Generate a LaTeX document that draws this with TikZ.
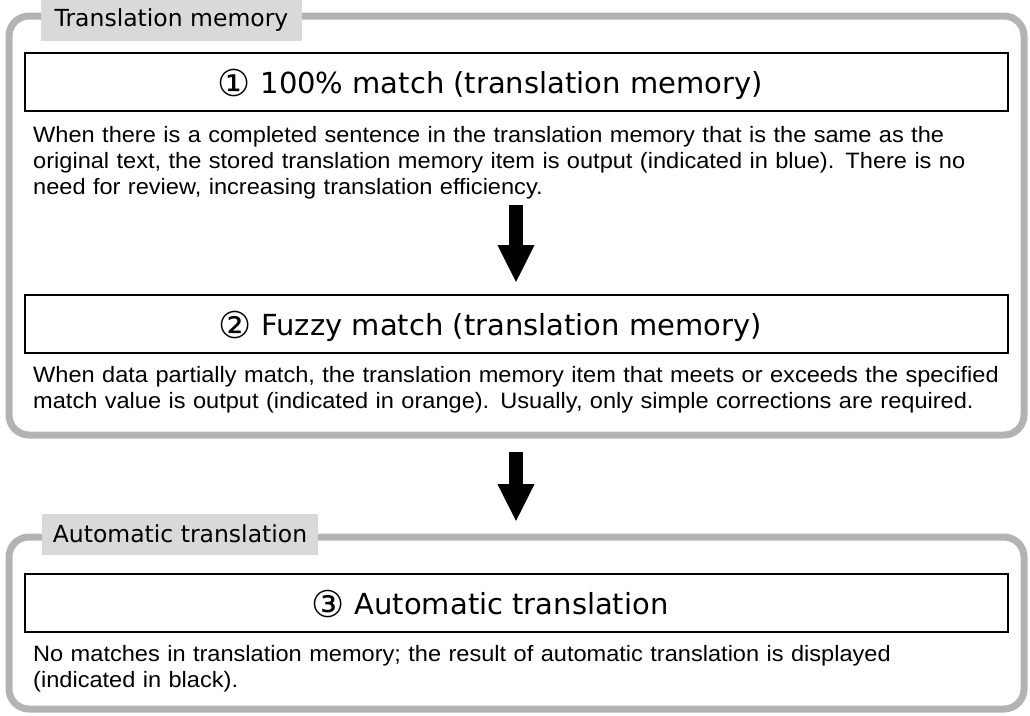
\documentclass[tikz,border=0pt]{standalone}
\usepackage{fontspec}
\setmainfont[FakeStretch=1.06]{Liberation Sans}
\newfontfamily\vfont{DejaVu Sans}
\usetikzlibrary{arrows.meta}
\definecolor{framegray}{HTML}{B3B3B3}
\definecolor{labelgray}{HTML}{D9D9D9}
\newcommand{\circnum}[1]{\raisebox{-3pt}{\fontsize{37}{37}\selectfont #1}\hspace*{10pt}}
\begin{document}
\begin{tikzpicture}[x=1pt,y=-1pt,
  groupframe/.style={draw=framegray, line width=7pt, rounded corners=20pt},
  grouplabel/.style={fill=labelgray, inner sep=0pt, minimum height=41pt, font=\vfont\fontsize{23.5}{28}\selectfont},
  titlebox/.style={draw, line width=2pt, inner sep=0pt, minimum width=983pt, minimum height=58pt},
  titletext/.style={anchor=base, inner sep=0pt, font=\vfont\fontsize{29}{34}\selectfont},
  bodytext/.style={anchor=base west, text width=995pt, align=left, inner sep=0pt, font=\fontsize{22.25}{26}\selectfont},
  bigarrow/.style={line width=14pt, -{Triangle[width=34pt,length=38pt]}}
]
\useasboundingbox (0,0) rectangle (1030,715);
% group frames
\draw[groupframe] (9,16) rectangle (1024,435);
\draw[groupframe] (9,537) rectangle (1024,709);
% group labels
\node[grouplabel, minimum width=261pt] (lab1) at (171.5,20.5) {Translation memory};
\node[grouplabel, minimum width=276pt] (lab2) at (180,534) {Automatic translation};
% title boxes
\node[titlebox] (t1) at (516.5,82) {};
\node[titlebox] (t2) at (516.5,324) {};
\node[titlebox] (t3) at (516.5,602.5) {};
\node[titletext] (t1l) at (490,93) {\circnum{①}100\% match (translation memory)};
\node[titletext] (t2l) at (490,335) {\circnum{②}Fuzzy match (translation memory)};
\node[titletext] (t3l) at (490,614) {\circnum{③}Automatic translation};
% body texts
\node[bodytext] (b1) at (33,142) {When there is a completed sentence in the translation memory that is the same as the\\original text, the stored translation memory item is output (indicated in blue). There is no\\need for review, increasing translation efficiency.};
\node[bodytext] (b2) at (33,382) {When data partially match, the translation memory item that meets or exceeds the specified\\match value is output (indicated in orange). Usually, only simple corrections are required.};
\node[bodytext] (b3) at (33,661) {No matches in translation memory; the result of automatic translation is displayed\\(indicated in black).};
% arrows
\coordinate (a1s) at (516,205);
\coordinate (a1e) at (516,283);
\coordinate (a2s) at (516,452);
\coordinate (a2e) at (516,522);
\draw[bigarrow] (a1s) -- (a1e);
\draw[bigarrow] (a2s) -- (a2e);
\end{tikzpicture}
\end{document}
